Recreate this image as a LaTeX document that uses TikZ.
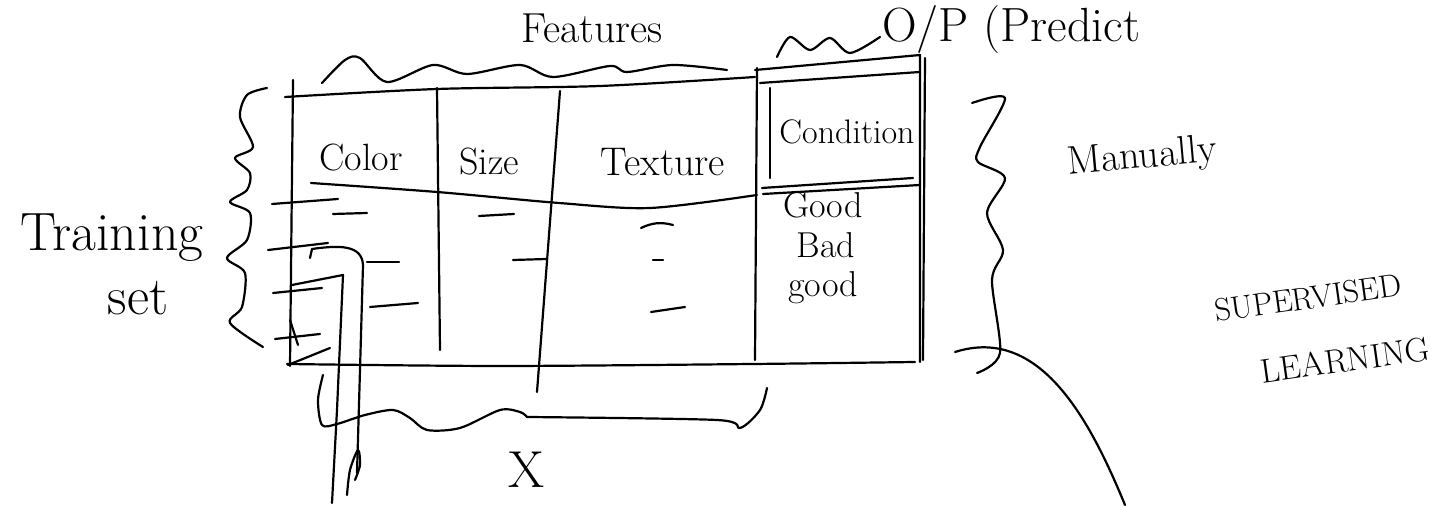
\documentclass[tikz,border=0pt]{standalone}
\tikzset{
  ink/.style={line width=1.1pt, line cap=round, line join=round},
  hand/.style={inner sep=0pt, font=\fontsize{#1}{#1}\selectfont},
}
\begin{document}
\begin{tikzpicture}[x=0.5pt, y=-0.5pt]
\useasboundingbox (0,0) rectangle (1436,506);
% table frame
\draw[ink] plot[smooth] coordinates {(285,97) (437,89) (600,86) (755,77)};
\draw[ink] (293,80) -- (290,366);
\draw[ink] plot[smooth] coordinates {(287,364) (500,366) (753,364) (915,362)};
\draw[ink] (288,365) -- (330,348);
\draw[ink] (290,320) -- (298,345);
\draw[ink] (437,88) -- (440,350);
\draw[ink] (560,91) -- (537,392);
\draw[ink] (757,68) -- (755,360);
\draw[ink] plot[smooth] coordinates {(311,183) (437,192) (559,203) (650,208) (757,195)};
% condition column
\draw[ink] (755,70) -- (920,55) -- (920,362);
\draw[ink] (925,58) -- (923,360);
\draw[ink] (760,83) -- (920,72);
\draw[ink] (770,88) -- (770,178);
\draw[ink] (762,188) -- (913,178);
\draw[ink] (763,194) -- (920,185);
% labels
\node[hand=19] (color) at (361,158) {Color};
\node[hand=19] (size) at (489,162) {Size};
\node[hand=20] (texture) at (663,162) {Texture};
\node[hand=17] (condition) at (847,132) {Condition};
\node[hand=18] (good1) at (823,205) {Good};
\node[hand=18] (bad) at (826,245) {Bad};
\node[hand=18] (good2) at (823,288) {good};
% dashes for rows
\draw[ink] (272,204) -- (338,199);
\draw[ink] (268,250) -- (328,243);
\draw[ink] (273,293) -- (322,288);
\draw[ink] (275,339) -- (320,334);
\draw[ink] (333,214) -- (367,213);
\draw[ink] (367,262) -- (399,262);
\draw[ink] (370,307) -- (418,303);
\draw[ink] (479,216) -- (514,214);
\draw[ink] (513,260) -- (547,259);
\draw[ink] (641,228) to[bend left=20] (673,225);
\draw[ink] (653,260) -- (663,260);
\draw[ink] (651,312) -- (685,307);
% hooks down the first column
\draw[ink] (310,258) -- (312,249) .. controls (340,245) and (362,245) .. (363,265) -- (360,370) -- (357,473);
\draw[ink] plot[smooth] coordinates {(347,495) (350,470) (358,450) (360,465) (355,480)};
\draw[ink] (292,285) -- (343,275) -- (337,410) -- (332,503);
% braces
\draw[ink] plot[smooth] coordinates {(322,83) (345,60) (360,58) (387,82) (433,65) (467,74) (520,65) (553,77) (610,66) (627,72) (673,65) (727,70)};
\draw[ink] plot[smooth] coordinates {(777,57) (790,37) (810,50) (830,38) (850,53) (880,37)};
\draw[ink] plot[smooth] coordinates {(267,88) (247,95) (240,117) (253,147) (235,158) (250,173) (247,190) (230,202) (250,213) (247,240) (227,258) (245,273) (242,307) (230,323) (263,347)};
\draw[ink] plot[smooth] coordinates {(972,103) (1005,98) (980,147) (978,162) (1005,178) (987,213) (1003,250) (992,280) (1000,353) (977,373)};
\draw[ink] plot[smooth] coordinates {(323,375) (318,400) (322,425) (337,424) (365,415) (393,410) (410,418) (427,430) (460,428) (500,410) (520,412) (527,417)};
\draw[ink] plot[smooth] coordinates {(527,417) (717,420) (740,428) (760,410) (767,388)};
\draw[ink] (955,352) .. controls (1040,325) and (1090,420) .. (1125,505);
% side texts
\node[hand=21] (features) at (592,28) {Features};
\node[hand=24, anchor=west] (output) at (882,30) {O/P (Predict};
\node[hand=27] (training) at (112,238) {Training};
\node[hand=27] (set) at (138,298) {set};
\node[hand=20, rotate=5] (manually) at (1142,158) {Manually};
\node[hand=16, rotate=8] (supervised) at (1308,298) {SUPERVISED};
\node[hand=17, rotate=8] (learning) at (1345,360) {LEARNING};
\node[hand=26] (xlabel) at (527,470) {X};
\end{tikzpicture}
\end{document}
